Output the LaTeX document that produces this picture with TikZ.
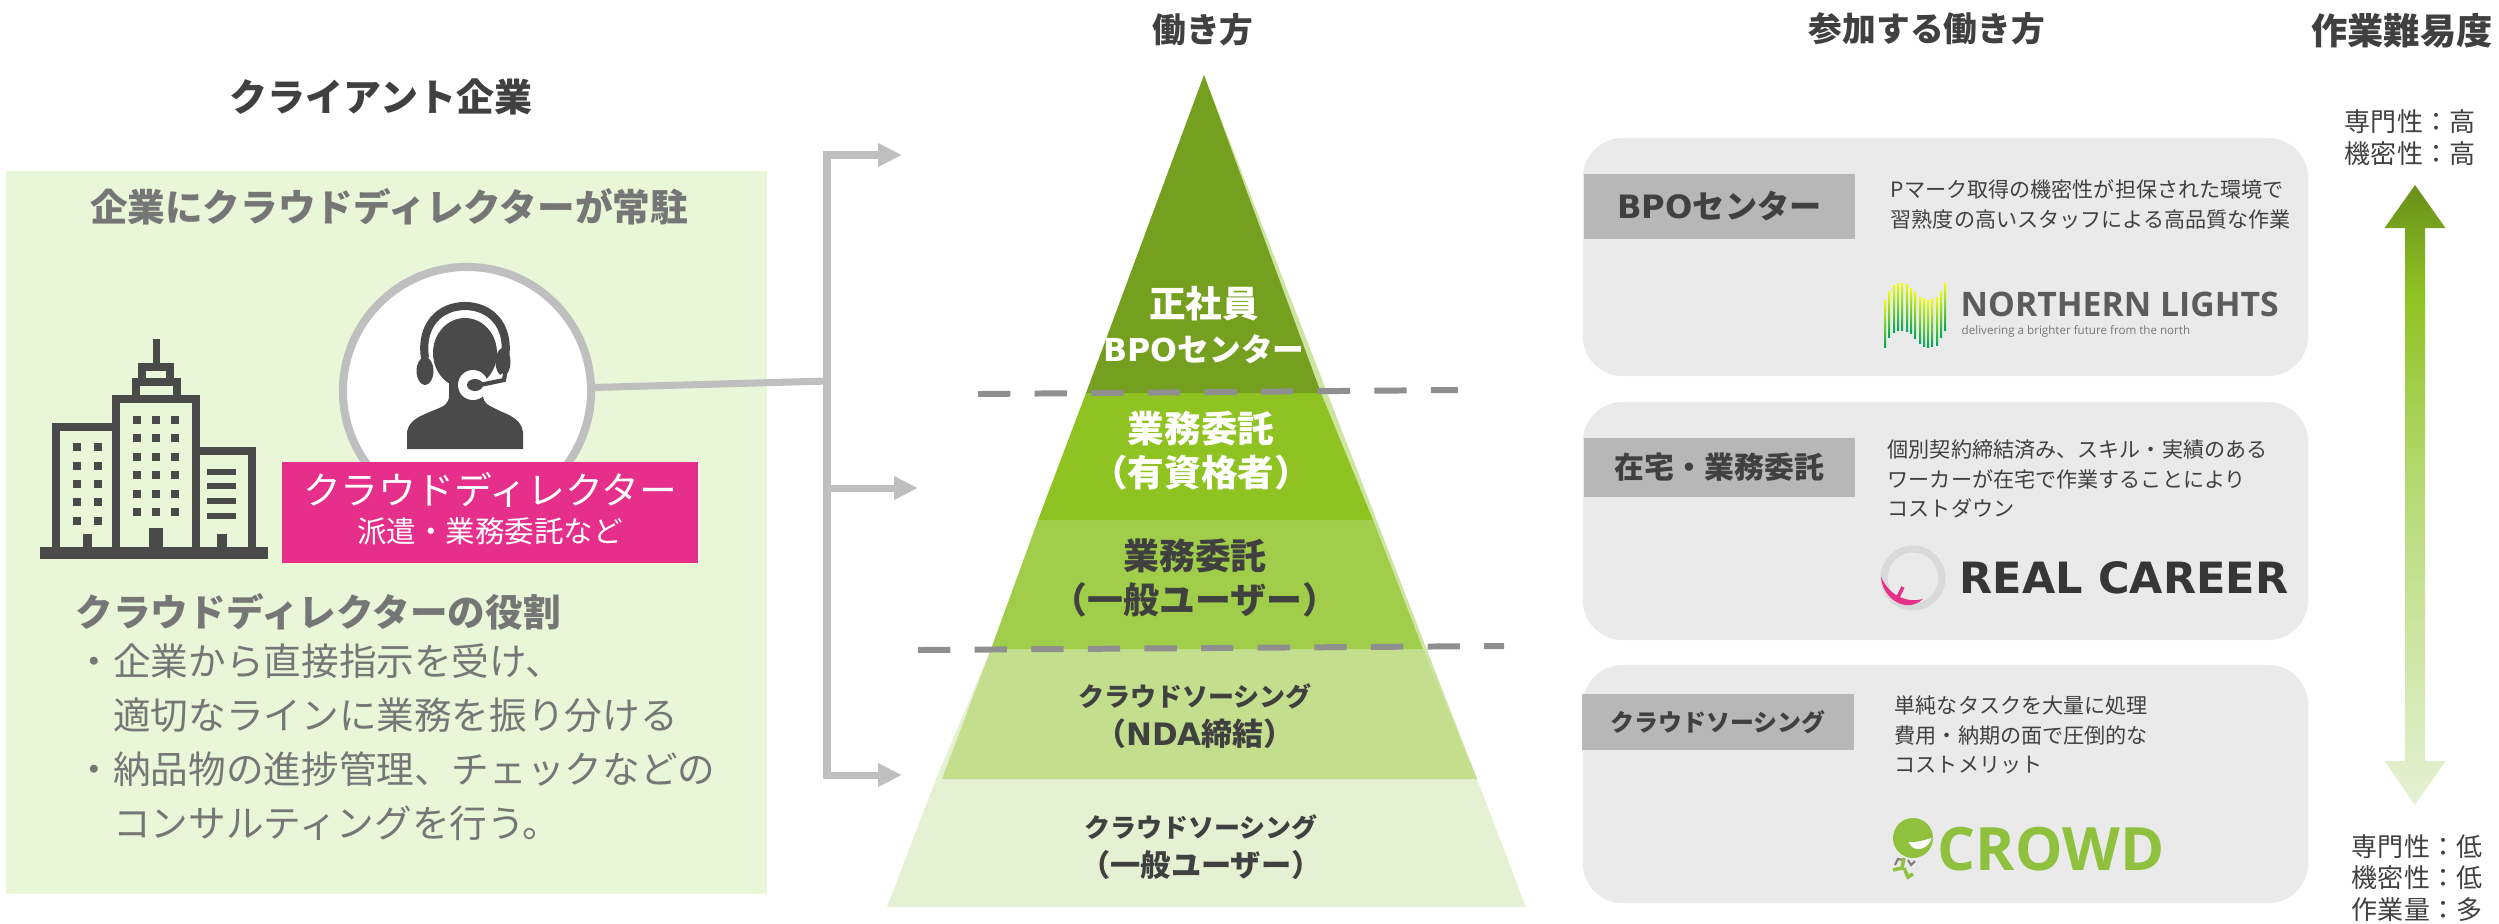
\documentclass[tikz,border=0pt]{standalone}
\usepackage{fontspec}
\usepackage{xcolor}
\setmainfont{Noto Sans CJK JP}
\newfontfamily\latinfont{DejaVu Sans}
\newfontfamily\logofont{Open Sans}
\usetikzlibrary{positioning, arrows.meta}
\definecolor{boxgreen}{HTML}{E9F6D8}
\definecolor{textdark}{HTML}{404040}
\definecolor{textgray}{HTML}{767676}
\definecolor{linegray}{HTML}{BFBFBF}
\definecolor{dashgray}{HTML}{8F8F8F}
\definecolor{panelgray}{HTML}{EAEAEA}
\definecolor{labelgray}{HTML}{B7B7B7}
\definecolor{pinkbox}{HTML}{E62E8B}
\definecolor{icondark}{HTML}{4A4A4A}
\definecolor{crowdgreen}{HTML}{8FC13E}
\definecolor{layerone}{HTML}{759F1E}
\definecolor{layertwo}{HTML}{8FC322}
\definecolor{layerthree}{HTML}{A0CE4A}
\definecolor{layerfour}{HTML}{C3DF8E}
\definecolor{layerfive}{HTML}{E6F1D4}
\pgfdeclareverticalshading{levelshade}{100bp}{color(0bp)=(layerfive); color(25bp)=(layerfive); color(50bp)=(layerthree!75!white); color(66bp)=(layertwo); color(75bp)=(layerone!90!black); color(100bp)=(layerone!90!black)}
\tikzset{
    heading/.style={font=\bfseries\fontsize{9.6}{12}\selectfont, text=textdark, inner sep=0pt},
    boxhead/.style={font=\bfseries\fontsize{10.7}{13}\selectfont, text=textgray, inner sep=0pt},
    roletext/.style={font=\fontsize{10.7}{15.4}\selectfont, text=textgray, inner sep=0pt, align=left, anchor=west},
    layerwhite/.style={font=\bfseries\fontsize{10.4}{12.6}\selectfont, text=white, inner sep=0pt, align=center},
    layerdark/.style={font=\bfseries\fontsize{10.4}{12.6}\selectfont, text=textdark, inner sep=0pt, align=center},
    layersmall/.style={font=\bfseries\fontsize{7.4}{11}\selectfont, text=textdark, inner sep=0pt, align=center},
    panel/.style={fill=panelgray, rounded corners=0.4cm, minimum width=7.25cm, inner sep=0pt},
    labelbox/.style={fill=labelgray, minimum width=2.71cm, inner sep=0pt, text=textdark, font=\bfseries\fontsize{8.5}{10}\selectfont},
    desc/.style={font=\fontsize{6}{8.3}\selectfont, text=textdark, inner sep=0pt, align=left, anchor=west},
    level/.style={font=\fontsize{7.4}{9}\selectfont, text=textdark, inner sep=0pt, align=center},
    bldg/.style={draw=icondark, line width=2.2pt},
    graylink/.style={draw=linegray, line width=2pt},
    dashline/.style={draw=dashgray, line width=1.7pt, dash pattern=on 9.2pt off 6.9pt}
}
\begin{document}
\begin{tikzpicture}[x=0.01cm, y=-0.01cm, >={Triangle[length=6.8pt, width=6.3pt]}]
            \useasboundingbox (0,0) rectangle (2499,923);
            \node [heading, font=\bfseries\fontsize{10.8}{12}\selectfont] (clienttitle) at (381,97) {クライアント企業};
            \node [heading] (worktitle) at (1203,30) {働き方};
            \node [heading] (jointitle) at (1927,29) {参加する働き方};
            \node [heading, font=\bfseries\fontsize{10.3}{12}\selectfont] (difftitle) at (2402,31) {作業難易度};
            \node [fill=boxgreen, minimum width=7.61cm, minimum height=7.23cm, inner sep=0pt] (clientbox) at (386.5,532.5) {};
            \node [boxhead] (boxtitle) at (389,207) {企業にクラウドディレクターが常駐};
            \draw [bldg] (56,427) rectangle (116,553);
            \draw [bldg] (116,399) rectangle (196,553);
            \draw [bldg] (196,451) rectangle (252,553);
            \draw [bldg] (142,367) rectangle (170,382);
            \draw [bldg] (136,382) rectangle (177,399);
            \draw [bldg] (156.5,339) -- (156.5,367);
            \fill [icondark] (40,547) rectangle (268,559);
            \fill [icondark] (83,534) rectangle (92,548);
            \fill [icondark] (149,528) rectangle (163,548);
            \fill [icondark] (217,534) rectangle (227,548);
            \foreach \col in {137,156,175}
                \foreach \row in {420,438,457,475,494,512}
                    \fill [icondark] (\col-4,\row-4) rectangle (\col+4,\row+4);
            \foreach \col in {76.5,98}
                \foreach \row in {447,466,484,502,521}
                    \fill [icondark] (\col-4,\row-4) rectangle (\col+4,\row+4);
            \foreach \row in {472,486,501,516}
                \fill [icondark] (207,\row-3) rectangle (236,\row+3);
            \node [circle, draw=linegray, line width=2.3pt, fill=white, minimum size=2.48cm, inner sep=0pt] (directorcircle) at (467,391) {};
            \draw [icondark, line width=2.3pt] (425,358) .. controls (420,325) and (440,306) .. (465,306) .. controls (490,306) and (510,325) .. (505,358);
            \fill [icondark] (425,371) ellipse (8.5 and 14);
            \fill [icondark] (503,362) ellipse (7.5 and 14);
            \fill [icondark] (465,353) ellipse (32 and 35);
            \fill [icondark] (407,449) -- (407,432) .. controls (409,420) and (420,416) .. (432,411) .. controls (445,406) and (449,404) .. (449,395) -- (449,375) -- (483,375) -- (483,395) .. controls (483,404) and (490,406) .. (500,411) .. controls (512,416) and (521,420) .. (523,432) -- (523,449) -- cycle;
            \fill [white] (473,385) circle (15);
            \fill [white] (492,380) -- (505,372) -- (506,381) -- (485,391) -- cycle;
            \fill [icondark] (475,385) ellipse (8 and 6);
            \draw [icondark, line width=1.2pt] (475,386) -- (504,380) -- (507,362);
            \node [fill=pinkbox, minimum width=4.16cm, minimum height=1.01cm, inner sep=0pt] (directorbox) at (490,512.5) {};
            \node [font=\fontsize{10.75}{12}\selectfont, text=white, inner sep=0pt] (directorname) at (490,490) {クラウドディレクター};
            \node [font=\fontsize{8.4}{10}\selectfont, text=white, inner sep=0pt] (directorsub) at (490,531) {派遣・業務委託など};
            \node [boxhead, anchor=west] (roletitle) at (75,612) {クラウドディレクターの役割};
            \node [roletext] (rolelist) at (75,742) {・企業から直接指示を受け、\\　適切なラインに業務を振り分ける\\・納品物の進捗管理、チェックなどの\\　コンサルティングを行う。};
            \coordinate (branchjoin) at (827,381);
            \coordinate (branchtop) at (827,155);
            \coordinate (branchmid) at (827,488);
            \coordinate (branchlow) at (827,775);
            \coordinate (targettop) at (902,155);
            \coordinate (targetmid) at (918,488);
            \coordinate (targetlow) at (902,775);
            \draw [graylink] (directorcircle) -- (branchjoin);
            \draw [graylink, <->] (targettop) -- (branchtop) -- (branchlow) -- (targetlow);
            \draw [graylink, ->] (branchmid) -- (targetmid);
            \fill [layerfour!70!layerfive] (1204,75) -- (1477,779) -- (1204,779) -- cycle;
            \fill [layerfive] (991,649) -- (1204,649) -- (1204,779) -- (1477,779) -- (1526,907) -- (887,907) -- (936,779) -- cycle;
            \fill [layerfour] (991,649) -- (1423,649) -- (1477,779) -- (942,779) -- cycle;
            \fill [layerthree] (1038,520) -- (1373,520) -- (1423,649) -- (991,649) -- cycle;
            \fill [layertwo] (1086,393) -- (1321,393) -- (1373,520) -- (1038,520) -- cycle;
            \fill [layerone] (1204,75) -- (1321,393) -- (1086,393) -- cycle;
            \node [layerwhite] (layeronetext) at (1204,325) {正社員\\{\fontsize{9}{12.6}\selectfont\latinfont BPO}{\fontsize{9}{12.6}\selectfont センター}};
            \node [layerwhite] (layertwotext) at (1201,451) {業務委託\\（有資格者）};
            \node [layerdark, font=\bfseries\fontsize{10.2}{12.6}\selectfont] (layerthreetext) at (1195,578) {業務委託\\（一般ユーザー）};
            \node [layersmall] (layerfourtext) at (1195,716) {クラウドソーシング\\{\fontsize{8.8}{11}\selectfont（{\latinfont NDA}締結）}};
            \node [layersmall] (layerfivetext) at (1201,847) {クラウドソーシング\\{\fontsize{8.6}{11}\selectfont（一般ユーザー）}};
            \coordinate (dashoneleft) at (978,394);
            \coordinate (dashoneright) at (1458,390);
            \coordinate (dashtwoleft) at (918,650);
            \coordinate (dashtworight) at (1504,646);
            \draw [dashline] (dashoneleft) -- (dashoneright);
            \draw [dashline] (dashtwoleft) -- (dashtworight);
            \node [panel, minimum height=2.38cm] (bpopanel) at (1945.5,257) {};
            \node [panel, minimum height=2.38cm] (homepanel) at (1945.5,521) {};
            \node [panel, minimum height=2.38cm] (crowdpanel) at (1945.5,784) {};
            \node [labelbox, minimum height=0.65cm, font=\bfseries\fontsize{9.15}{10}\selectfont] (bpolabel) at (1719.5,206.5) {{\latinfont BPO}センター};
            \node [labelbox, minimum height=0.59cm] (homelabel) at (1719.5,467.5) {在宅・業務委託};
            \node [labelbox, minimum height=0.56cm, font=\bfseries\fontsize{6.8}{9}\selectfont] (crowdlabel) at (1718,722) {クラウドソーシング};
            \node [desc] (bpodesc) at (1890,204.5) {Pマーク取得の機密性が担保された環境で\\習熟度の高いスタッフによる高品質な作業};
            \node [desc] (homedesc) at (1887,479) {個別契約締結済み、スキル・実績のある\\ワーカーが在宅で作業することにより\\コストダウン};
            \node [desc] (crowddesc) at (1894,735) {単純なタスクを大量に処理\\費用・納期の面で圧倒的な\\コストメリット};
            \foreach \x/\t/\b in {1885/300/347,1889/291/337,1894/285/332,1898/283/330,1902/283/330,1907/284/331,1911/288/333,1915/292/338,1920/297/343,1924/298/346,1928/300/347,1932/299/346,1937/297/345,1941/291/337,1945/283/330}
                \shade [top color=yellow!95!green, middle color=green!45!yellow!60!teal, bottom color=teal!70!green] (\x-1,\t) rectangle (\x+1,\b);
            \node [font=\logofont\bfseries\fontsize{9.6}{11}\selectfont, text=icondark!90!white, inner sep=0pt, anchor=west] (northernname) at (1960,304) {NORTHERN LIGHTS};
            \node [font=\logofont\fontsize{3.3}{4}\selectfont, text=textgray, inner sep=0pt, anchor=west] (northerntag) at (1961,331) {delivering a brighter future from the north};
            \draw [gray!30, line width=2pt] (1913,578) circle (29);
            \fill [pinkbox] (1881,577) .. controls (1882,597) and (1905,615) .. (1923,599) .. controls (1908,603) and (1890,597) .. cycle;
            \draw [pinkbox, line width=1pt] (1898,597) -- (1903,587);
            \node [font=\latinfont\bfseries\fontsize{12.25}{14}\selectfont, text=textdark!85!black, inner sep=0pt, anchor=west] (realname) at (1959,578) {REAL CAREER};
            \fill [crowdgreen] (1913,838) circle (20);
            \fill [white] (1908.5,842) .. controls (1915,843) and (1925,840) .. (1931.5,838) .. controls (1930,848) and (1914,855) .. cycle;
            \draw [gray, line width=0.6pt] (1895,865) -- (1898,859) -- (1903,860);
            \draw [gray, line width=0.6pt] (1908,860) -- (1911,865) -- (1915,861);
            \draw [crowdgreen, line width=1pt] (1904,858) -- (1902,868) -- (1893,870);
            \draw [crowdgreen, line width=1pt] (1904,868) -- (1908,877) -- (1913,874);
            \node [font=\logofont\bfseries\fontsize{17}{20}\selectfont, text=crowdgreen, inner sep=0pt, anchor=west] (crowdname) at (1937,849) {CROWD};
            \node [level] (hightext) at (2410,137.5) {専門性：高\\機密性：高};
            \shade [shading=levelshade] (2415,185) -- (2445.5,228) -- (2425,228) -- (2425,761) -- (2445.5,761) -- (2415,805) -- (2384.5,761) -- (2405,761) -- (2405,228) -- (2384.5,228) -- cycle;
            \node [level] (lowtext) at (2417,878) {専門性：低\\機密性：低\\作業量：多};
        \end{tikzpicture}
\end{document}
